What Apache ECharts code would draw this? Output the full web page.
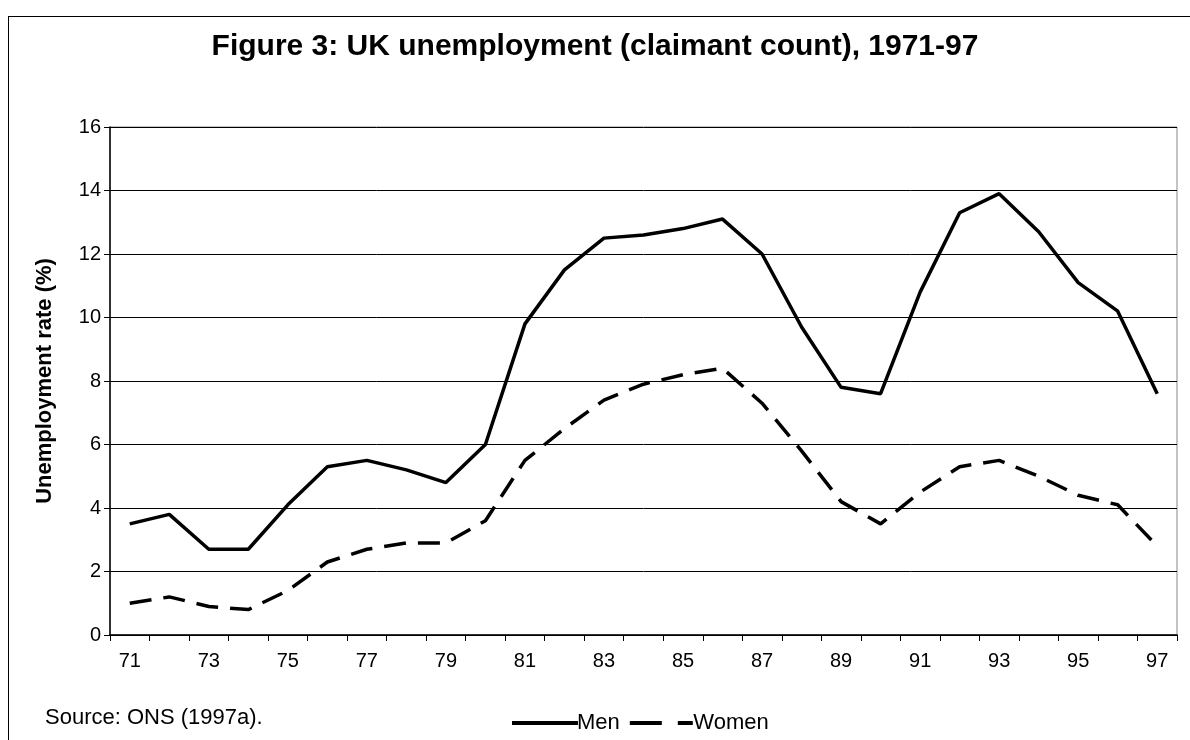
<!DOCTYPE html>
<html>
<head>
<meta charset="utf-8">
<script src="https://cdn.jsdelivr.net/npm/echarts@6/dist/echarts.min.js"></script>
<style>
  html, body { margin: 0; padding: 0; background: #fff; }
  .box {
    position: absolute; left: 8px; top: 16px; width: 1190px; height: 740px;
    border-left: 1px solid #000; border-top: 1px solid #000;
  }
  #chart { position: absolute; left: 0; top: 0; width: 1190px; height: 740px; }
</style>
</head>
<body>
<div class="box"></div>
<div id="chart"></div>
<script>
// 年份（两位数）
var years = ["71","72","73","74","75","76","77","78","79","80","81","82","83","84",
  "85","86","87","88","89","90","91","92","93","94","95","96","97"];
// 男性失业率 %
var men = [3.5, 3.8, 2.7, 2.7, 4.1, 5.3, 5.5, 5.2, 4.8, 6.0, 9.8, 11.5, 12.5, 12.6,
  12.8, 13.1, 12.0, 9.7, 7.8, 7.6, 10.8, 13.3, 13.9, 12.7, 11.1, 10.2, 7.6];
// 女性失业率 %
var women = [1.0, 1.2, 0.9, 0.8, 1.4, 2.3, 2.7, 2.9, 2.9, 3.6, 5.5, 6.5, 7.4, 7.9,
  8.2, 8.4, 7.3, 5.8, 4.2, 3.5, 4.5, 5.3, 5.5, 5.0, 4.4, 4.1, 2.8];

var chart = echarts.init(document.getElementById("chart"));
var font = "'Liberation Sans', Arial, sans-serif";
var option = {
  animation: false,
  title: {
    text: "Figure 3: UK unemployment (claimant count), 1971-97",
    left: "center",
    top: 27,
    textStyle: { fontFamily: font, fontSize: 30, fontWeight: "bold", color: "#000" }
  },
  graphic: [{
    type: "text",
    left: 45,
    top: 707,
    style: { text: "Source: ONS (1997a).", font: "22px " + font, fill: "#000" }
  }],
  legend: {
    top: 707,
    left: 507,
    itemWidth: 66,
    itemHeight: 4,
    itemGap: 10,
    textStyle: { fontFamily: font, fontSize: 22, color: "#000", padding: [0, 0, 0, -6] },
    data: [
      { name: "Men", icon: "path://M0,0H66V4H0Z" },
      { name: "Women", icon: "path://M0,0H32V4H0ZM48,0H63V4H48Z" }
    ]
  },
  grid: {
    left: 110, right: 13, top: 127, bottom: 105,
    show: true, borderColor: "#888", borderWidth: 1
  },
  xAxis: {
    type: "category",
    data: years,
    boundaryGap: true,
    axisLine: { lineStyle: { color: "#000", width: 1.5 } },
    axisTick: { show: true, length: 6, interval: 0, lineStyle: { color: "#000" } },
    axisLabel: { interval: 1, margin: 16, fontFamily: font, fontSize: 20, color: "#000" }
  },
  yAxis: {
    type: "value",
    min: 0, max: 16, interval: 2,
    name: "Unemployment rate (%)",
    nameLocation: "middle",
    nameGap: 54,
    nameTextStyle: { fontFamily: font, fontSize: 22, fontWeight: "bold", color: "#000" },
    axisLine: { show: true, lineStyle: { color: "#000", width: 1.5 } },
    axisTick: { show: true, length: 6, lineStyle: { color: "#000" } },
    axisLabel: { margin: 9, fontFamily: font, fontSize: 20, color: "#000" },
    splitLine: { lineStyle: { color: "#000", width: 1 } }
  },
  series: [
    {
      name: "Men", type: "line", data: men, symbol: "none",
      lineStyle: { color: "#000", width: 3.5 }, itemStyle: { color: "#000" }
    },
    {
      name: "Women", type: "line", data: women, symbol: "none",
      lineStyle: { color: "#000", width: 3.5, type: [22, 12] }, itemStyle: { color: "#000" }
    }
  ]
};
chart.setOption(option);
</script>
</body>
</html>
